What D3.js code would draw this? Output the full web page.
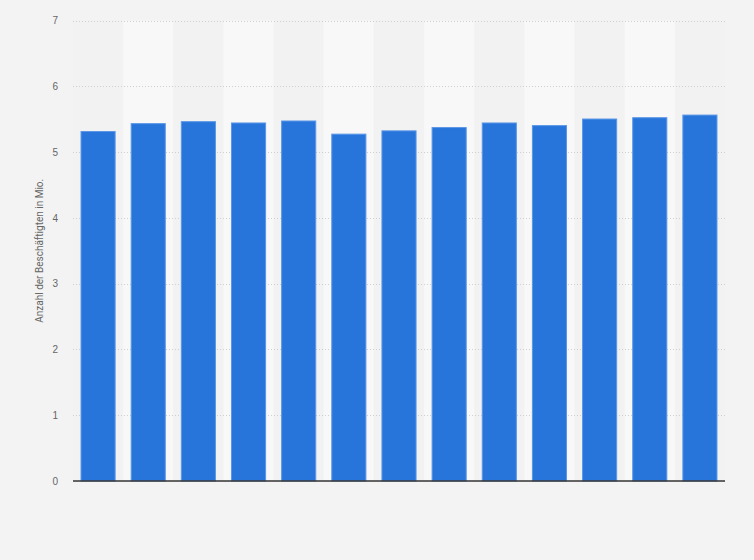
<!DOCTYPE html>
<html>
<head>
<meta charset="utf-8">
<script src="https://cdn.jsdelivr.net/npm/d3@7/dist/d3.min.js"></script>
<style>
  html, body { margin: 0; padding: 0; background: #f3f3f3; }
  svg { display: block; font-family: Roboto, "Open Sans", Arial, sans-serif; }
</style>
</head>
<body>
<svg id="chart" width="754" height="560"></svg>
<script>
// Categories (x-axis labels are not shown in the reference)
const categories = ["2007","2008","2009","2010","2011","2012","2013","2014","2015","2016","2017","2018","2019"];
const values = [5.32, 5.44, 5.47, 5.45, 5.48, 5.28, 5.33, 5.38, 5.45, 5.41, 5.51, 5.53, 5.57];
const yTicks = [0, 1, 2, 3, 4, 5, 6, 7];
const yLabel = "Anzahl der Beschäftigten in Mio.";

const W = 754, H = 560;
const margin = { left: 73, right: 29, top: 20.5, bottom: 79 };
const svg = d3.select("#chart");
svg.append("rect").attr("width", W).attr("height", H).attr("fill", "#f3f3f3");

const x = d3.scaleBand().domain(categories)
  .range([margin.left, W - margin.right])
  .paddingInner(0.3).paddingOuter(0.15);
const xBg = d3.scaleBand().domain(categories)
  .range([margin.left, W - margin.right]).padding(0);
const y = d3.scaleLinear().domain([0, 7]).range([H - margin.bottom, margin.top]);

// alternating column backgrounds
svg.append("g").selectAll("rect").data(categories).join("rect")
  .attr("x", d => xBg(d))
  .attr("width", xBg.bandwidth())
  .attr("y", y(7))
  .attr("height", y(0) - y(7))
  .attr("fill", (d, i) => i % 2 === 1 ? "#f8f8f8" : "#f2f2f2");

// grid lines
svg.append("g").selectAll("line").data(yTicks.filter(t => t > 0)).join("line")
  .attr("x1", margin.left).attr("x2", W - margin.right)
  .attr("y1", d => Math.round(y(d)) + 0.5).attr("y2", d => Math.round(y(d)) + 0.5)
  .attr("stroke", "#cfcfcf").attr("stroke-width", 1)
  .attr("stroke-dasharray", "1,2");

// y axis labels
const yAxis = d3.axisLeft(y).tickValues(yTicks).tickSize(0).tickPadding(0).tickFormat(d3.format("d"));
const gy = svg.append("g").attr("transform", `translate(${margin.left - 15},0)`).call(yAxis);
gy.select(".domain").remove();
gy.selectAll("text").attr("fill", "#666").attr("font-size", 10);

// bars
svg.append("g").selectAll("rect").data(values).join("rect")
  .attr("x", (d, i) => x(categories[i]) + 0.5)
  .attr("width", x.bandwidth() - 1)
  .attr("y", d => y(d) + 0.5)
  .attr("height", d => y(0) - y(d) - 0.5)
  .attr("fill", "#2775db")
  .attr("stroke", "#5b97e6").attr("stroke-width", 1);

// x axis
const xAxis = d3.axisBottom(x).tickSize(0).tickFormat("");
const gx = svg.append("g").attr("transform", `translate(0,${y(0)})`).call(xAxis);
gx.select(".domain").attr("stroke", "#333").attr("stroke-width", 1.5)
  .attr("d", `M${margin.left},0H${W - margin.right}`);

// y label
svg.append("text")
  .attr("transform", `translate(43,${(y(0) + y(7)) / 2}) rotate(-90)`)
  .attr("text-anchor", "middle")
  .attr("font-size", 10)
  .attr("fill", "#666")
  .text(yLabel);
</script>
</body>
</html>
